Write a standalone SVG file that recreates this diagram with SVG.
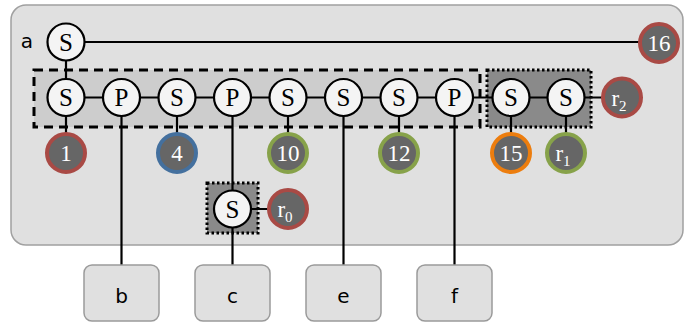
<svg xmlns="http://www.w3.org/2000/svg" width="684" height="322" viewBox="0 0 684 322">
  <style>
    .panel { fill: #e0e0e0; stroke: #a0a0a0; stroke-width: 1.5; }
    .group { fill: #cdcdcd; stroke: #000; stroke-width: 3; stroke-dasharray: 9 6; }
    .fixed { fill: #8a8a8a; stroke: #000; stroke-width: 3; stroke-dasharray: 2.5 2.5; }
    .node circle { fill: #f4f4f4; stroke: #000; stroke-width: 2.2; }
    .node text { font-family: "Liberation Serif", "DejaVu Serif", serif; font-size: 25px; fill: #000; text-anchor: middle; }
    .badge circle { fill: #666; stroke-width: 4; }
    .badge text { font-family: "Liberation Serif", "DejaVu Serif", serif; font-size: 23px; fill: #fff; text-anchor: middle; }
    .red circle { stroke: #a94a45; }
    .blue circle { stroke: #44709e; }
    .green circle { stroke: #87a24a; }
    .orange circle { stroke: #ec7d0e; }
    .leaf rect { fill: #e0e0e0; stroke: #9a9a9a; stroke-width: 1.5; }
    .leaf text, .label { font-family: "DejaVu Sans", sans-serif; font-size: 20px; fill: #000; text-anchor: middle; }
    .edges line { stroke: #000; stroke-width: 2.2; }
  </style>

  <!-- container -->
  <rect class="panel" x="11" y="5" width="672" height="240" rx="15"/>
  <text class="label" x="27" y="48">a</text>

  <!-- grouping boxes -->
  <rect class="group" x="34" y="70" width="446" height="57"/>
  <rect class="fixed" x="487" y="70" width="104" height="57"/>
  <rect class="fixed" x="207" y="183" width="51" height="50"/>

  <!-- connectors -->
  <g class="edges">
    <line x1="66" y1="42" x2="659" y2="42"/>
    <line x1="66" y1="42" x2="66" y2="153"/>
    <line x1="66" y1="97.5" x2="622" y2="97.5"/>
    <line x1="121.5" y1="97.5" x2="121.5" y2="266"/>
    <line x1="177" y1="97.5" x2="177" y2="153"/>
    <line x1="232.5" y1="97.5" x2="232.5" y2="266"/>
    <line x1="232.5" y1="209" x2="288" y2="209"/>
    <line x1="288" y1="97.5" x2="288" y2="153"/>
    <line x1="343.5" y1="97.5" x2="343.5" y2="266"/>
    <line x1="399" y1="97.5" x2="399" y2="153"/>
    <line x1="454.5" y1="97.5" x2="454.5" y2="266"/>
    <line x1="511" y1="97.5" x2="511" y2="153"/>
    <line x1="566" y1="97.5" x2="566" y2="153"/>
  </g>

  <!-- tree nodes -->
  <g id="n-root" class="node"><circle cx="66" cy="42" r="18.5"/><text x="66" y="50.5">S</text></g>
  <g id="n1" class="node"><circle cx="66" cy="97.5" r="18.5"/><text x="66" y="106">S</text></g>
  <g id="n2" class="node"><circle cx="121.5" cy="97.5" r="18.5"/><text x="121.5" y="106">P</text></g>
  <g id="n3" class="node"><circle cx="177" cy="97.5" r="18.5"/><text x="177" y="106">S</text></g>
  <g id="n4" class="node"><circle cx="232.5" cy="97.5" r="18.5"/><text x="232.5" y="106">P</text></g>
  <g id="n5" class="node"><circle cx="288" cy="97.5" r="18.5"/><text x="288" y="106">S</text></g>
  <g id="n6" class="node"><circle cx="343.5" cy="97.5" r="18.5"/><text x="343.5" y="106">S</text></g>
  <g id="n7" class="node"><circle cx="399" cy="97.5" r="18.5"/><text x="399" y="106">S</text></g>
  <g id="n8" class="node"><circle cx="454.5" cy="97.5" r="18.5"/><text x="454.5" y="106">P</text></g>
  <g id="n9" class="node"><circle cx="511" cy="97.5" r="18.5"/><text x="511" y="106">S</text></g>
  <g id="n10" class="node"><circle cx="566" cy="97.5" r="18.5"/><text x="566" y="106">S</text></g>
  <g id="n11" class="node"><circle cx="232.5" cy="209" r="18.5"/><text x="232.5" y="217.5">S</text></g>

  <!-- value badges -->
  <g id="b16" class="badge red"><circle cx="659" cy="43" r="19"/><text x="659" y="51">16</text></g>
  <g id="b1" class="badge red"><circle cx="66" cy="153" r="19"/><text x="66" y="161">1</text></g>
  <g id="b4" class="badge blue"><circle cx="177" cy="153" r="19"/><text x="177" y="161">4</text></g>
  <g id="b10" class="badge green"><circle cx="288" cy="153" r="19"/><text x="288" y="161">10</text></g>
  <g id="b12" class="badge green"><circle cx="399" cy="153" r="19"/><text x="399" y="161">12</text></g>
  <g id="b15" class="badge orange"><circle cx="511" cy="153" r="19"/><text x="511" y="161">15</text></g>
  <g id="br1" class="badge green"><circle cx="566" cy="153" r="19"/><text x="563" y="161">r<tspan font-size="15" dy="5">1</tspan></text></g>
  <g id="br2" class="badge red"><circle cx="622" cy="97.5" r="19"/><text x="619" y="105.5">r<tspan font-size="15" dy="5">2</tspan></text></g>
  <g id="br0" class="badge red"><circle cx="288" cy="209" r="19"/><text x="285" y="217">r<tspan font-size="15" dy="5">0</tspan></text></g>

  <!-- leaf boxes -->
  <g id="leaf-b" class="leaf"><rect x="84" y="265" width="75" height="56" rx="8"/><text x="121.5" y="303">b</text></g>
  <g id="leaf-c" class="leaf"><rect x="195" y="265" width="75" height="56" rx="8"/><text x="232.5" y="303">c</text></g>
  <g id="leaf-e" class="leaf"><rect x="306" y="265" width="75" height="56" rx="8"/><text x="343.5" y="303">e</text></g>
  <g id="leaf-f" class="leaf"><rect x="417" y="265" width="75" height="56" rx="8"/><text x="454.5" y="303">f</text></g>
</svg>
